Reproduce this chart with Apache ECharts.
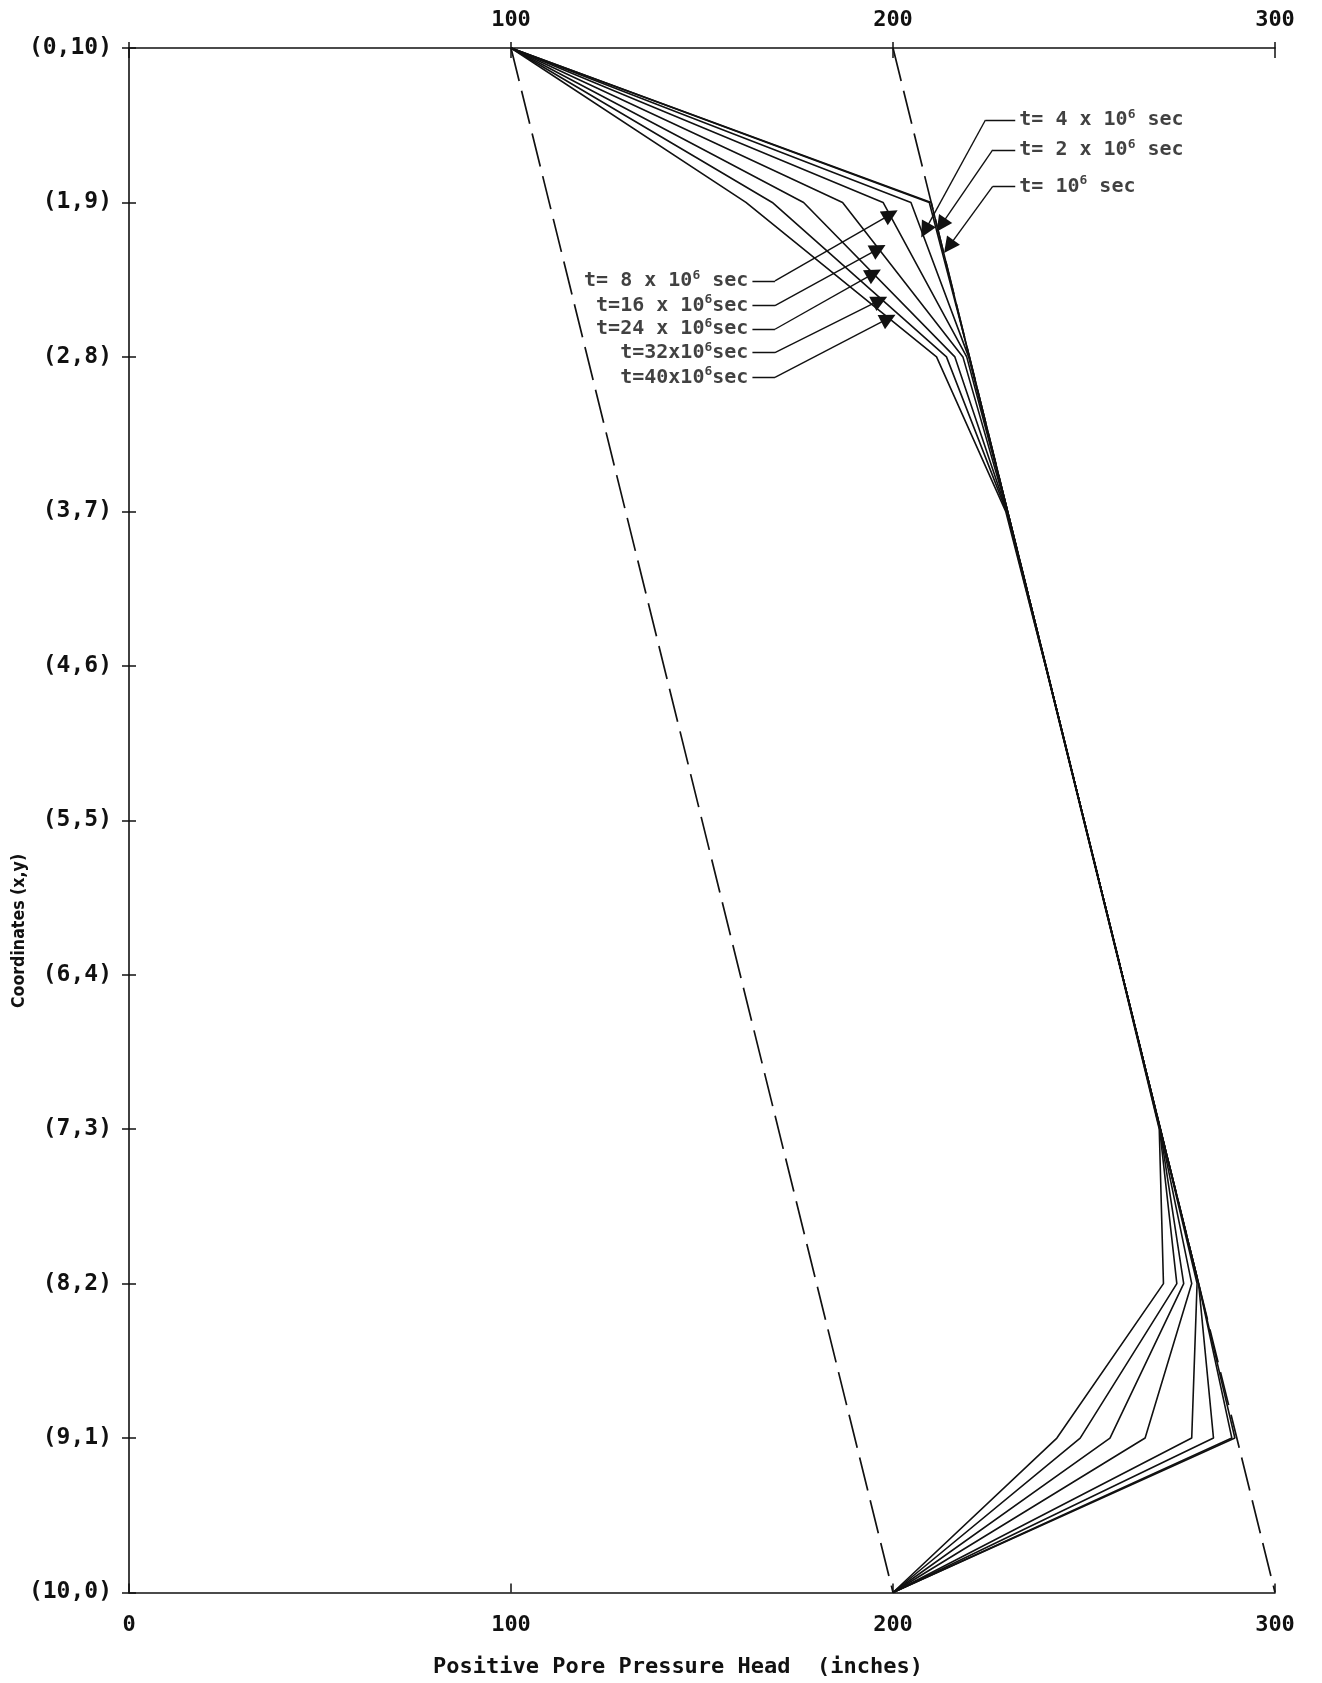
<!DOCTYPE html>
<html>
<head>
<meta charset="utf-8">
<title>Positive Pore Pressure Head</title>
<script src="https://cdn.jsdelivr.net/npm/echarts@6/dist/echarts.min.js"></script>
<style>
  html, body { margin: 0; padding: 0; background: #ffffff; }
  #chart { width: 1322px; height: 1683px; }
</style>
</head>
<body>
<div id="chart"></div>
<script>
// Nodes along the diagonal section, from (0,10) at the top to (10,0) at the bottom.
// The value is the node's y coordinate; the tick label shows "(x,y)".
const nodeY = [10, 9, 8, 7, 6, 5, 4, 3, 2, 1, 0];
const yTickLabels = ['(10,0)', '(9,1)', '(8,2)', '(7,3)', '(6,4)', '(5,5)', '(4,6)', '(3,7)', '(2,8)', '(1,9)', '(0,10)'];
const topTickLabels = ['', '100', '200', '300'];

// Pore pressure head (inches) at each node, one list per elapsed time
const headT1  = [100, 210.0, 220.0, 230.0, 240.0, 250.0, 260.0, 270.0, 280.0, 289.5, 200];
const headT2  = [100, 209.5, 220.0, 230.0, 240.0, 250.0, 260.0, 270.0, 280.0, 288.7, 200];
const headT4  = [100, 204.7, 219.8, 230.0, 240.0, 250.0, 260.0, 270.0, 280.0, 283.9, 200];
const headT8  = [100, 197.4, 219.3, 230.0, 240.0, 250.0, 260.0, 270.0, 279.6, 278.2, 200];
const headT16 = [100, 186.8, 218.3, 229.9, 240.0, 250.0, 260.0, 269.9, 278.2, 266.0, 200];
const headT24 = [100, 176.6, 216.2, 229.8, 240.0, 250.0, 260.0, 269.9, 276.1, 256.8, 200];
const headT32 = [100, 168.4, 214.0, 229.7, 239.9, 250.0, 260.0, 269.8, 274.3, 249.0, 200];
const headT40 = [100, 161.5, 211.4, 229.5, 239.9, 249.9, 259.9, 269.7, 270.8, 242.9, 200];

// Straight dashed profiles, given at the top and bottom nodes
const endY = [10, 0];
const initialHead = [200, 300];
const finalHead = [100, 200];

// Time labels: text, anchor of the label, bend of the leader, arrow tip (data units)
const timeLabels = ['t= 4 x 10{sup|6} sec', 't= 2 x 10{sup|6} sec', 't= 10{sup|6} sec',
                    't= 8 x 10{sup|6} sec', 't=16 x 10{sup|6}sec', 't=24 x 10{sup|6}sec',
                    't=32x10{sup|6}sec', 't=40x10{sup|6}sec'];
const labelSide   = ['right', 'right', 'right', 'left', 'left', 'left', 'left', 'left'];
const labelAnchor = [[232.0, 9.534], [232.0, 9.340], [232.0, 9.104],
                     [163.2, 8.492], [163.2, 8.332], [163.2, 8.179], [163.2, 8.027], [163.2, 7.867]];
const leaderBend  = [[224.2, 9.534], [226.1, 9.340], [226.1, 9.104],
                     [169.1, 8.492], [169.1, 8.332], [169.1, 8.179], [169.1, 8.027], [169.1, 7.867]];
const arrowTip    = [[208.4, 8.819], [212.6, 8.853], [214.6, 8.714],
                     [199.4, 8.923], [196.2, 8.700], [195.0, 8.541], [196.6, 8.367], [198.8, 8.249]];

const profiles = [headT1, headT2, headT4, headT8, headT16, headT24, headT32, headT40];

const INK = '#111111';
const MONO = '"DejaVu Sans Mono", monospace';
const SANS = '"DejaVu Sans", sans-serif';

const chart = echarts.init(document.getElementById('chart'), null, { renderer: 'canvas' });

function axisBase() {
  return {
    type: 'value',
    splitLine: { show: false },
    axisLine: { show: true, onZero: false, lineStyle: { color: INK, width: 1.6 } }
  };
}

const series = [];

// dashed reference profiles
[initialHead, finalHead].forEach(function (h) {
  series.push({
    type: 'line',
    xAxisIndex: 0, yAxisIndex: 0,
    data: endY.map(function (y, i) { return [h[i], y]; }),
    symbol: 'none',
    lineStyle: { color: INK, width: 1.7, type: [34, 10] },
    z: 3
  });
});

// head profiles for each time
profiles.forEach(function (h) {
  series.push({
    type: 'line',
    xAxisIndex: 0, yAxisIndex: 0,
    data: nodeY.map(function (y, i) { return [h[i], y]; }),
    symbol: 'none',
    lineStyle: { color: INK, width: 1.6 },
    z: 4
  });
});

// short horizontal leaders beside each time label
series.push({
  type: 'lines',
  coordinateSystem: 'cartesian2d',
  xAxisIndex: 0, yAxisIndex: 0,
  symbol: 'none',
  lineStyle: { color: INK, width: 1.4, opacity: 1, curveness: 0 },
  data: labelAnchor.map(function (a, i) { return { coords: [a, leaderBend[i]] }; }),
  z: 5
});

// arrows from the leaders to the profiles
series.push({
  type: 'lines',
  coordinateSystem: 'cartesian2d',
  xAxisIndex: 0, yAxisIndex: 0,
  symbol: ['none', 'triangle'],
  symbolSize: [7, 16],
  lineStyle: { color: INK, width: 1.4, opacity: 1, curveness: 0 },
  data: leaderBend.map(function (b, i) { return { coords: [b, arrowTip[i]] }; }),
  z: 5
});

// time label texts
series.push({
  type: 'scatter',
  xAxisIndex: 0, yAxisIndex: 0,
  symbolSize: 0.1,
  itemStyle: { color: 'rgba(0,0,0,0)' },
  silent: true,
  label: {
    show: true,
    distance: 4,
    color: INK,
    fontFamily: MONO,
    fontWeight: 'bold',
    fontSize: 20,
    lineHeight: 24,
    formatter: function (p) { return p.name; },
    rich: {
      sup: { fontFamily: MONO, fontWeight: 'bold', fontSize: 13, color: INK, verticalAlign: 'top', lineHeight: 14 }
    }
  },
  data: timeLabels.map(function (t, i) {
    return { name: t, value: labelAnchor[i], label: { position: labelSide[i] } };
  }),
  z: 6
});

chart.setOption({
  animation: false,
  backgroundColor: '#ffffff',
  grid: { left: 129, right: 47, top: 48, bottom: 90.5, outerBoundsMode: 'none' },
  xAxis: [
    Object.assign(axisBase(), {
      position: 'bottom', min: 0, max: 300, interval: 100,
      axisTick: { show: true, inside: true, length: 9, lineStyle: { color: INK, width: 1.5 } },
      axisLabel: { margin: 22, color: INK, fontFamily: MONO, fontWeight: 'bold', fontSize: 22 },
      name: 'Positive Pore Pressure Head  (inches)',
      nameLocation: 'middle',
      nameGap: 64,
      nameTextStyle: { color: INK, fontFamily: MONO, fontWeight: 'bold', fontSize: 22, padding: [0, 48, 0, 0] }
    }),
    Object.assign(axisBase(), {
      position: 'top', min: 0, max: 300, interval: 100,
      axisTick: { show: true, inside: true, length: 10, lineStyle: { color: INK, width: 1.5 } },
      axisLabel: {
        margin: 17, color: INK, fontFamily: MONO, fontWeight: 'bold', fontSize: 22,
        formatter: function (v) { return topTickLabels[v / 100]; }
      }
    }),
    Object.assign(axisBase(), {
      position: 'top', min: 0, max: 300, interval: 100,
      axisLine: { show: false, onZero: false },
      axisTick: { show: true, inside: false, length: 6, lineStyle: { color: INK, width: 1.5 } },
      axisLabel: { show: false }
    })
  ],
  yAxis: [
    Object.assign(axisBase(), {
      position: 'left', min: 0, max: 10, interval: 1,
      axisTick: { show: true, inside: false, length: 7, lineStyle: { color: INK, width: 1.5 } },
      axisLabel: {
        margin: 17, color: INK, fontFamily: MONO, fontWeight: 'bold', fontSize: 23,
        formatter: function (v) { return yTickLabels[v]; }
      }
    }),
    Object.assign(axisBase(), {
      position: 'left', min: 0, max: 10, interval: 1,
      axisLine: { show: false, onZero: false },
      axisTick: { show: true, inside: true, length: 7, lineStyle: { color: INK, width: 1.5 } },
      axisLabel: { show: false }
    })
  ],
  graphic: [{
    // vertical axis title, slightly condensed along its length
    type: 'text',
    x: 19, y: 931,
    rotation: Math.PI / 2,
    scaleX: 0.88,
    style: {
      text: 'Coordinates (x,y)',
      fill: INK,
      fontSize: 18,
      fontFamily: SANS,
      fontWeight: 'bold',
      align: 'center',
      verticalAlign: 'middle'
    }
  }],
  series: series
});
</script>
</body>
</html>
